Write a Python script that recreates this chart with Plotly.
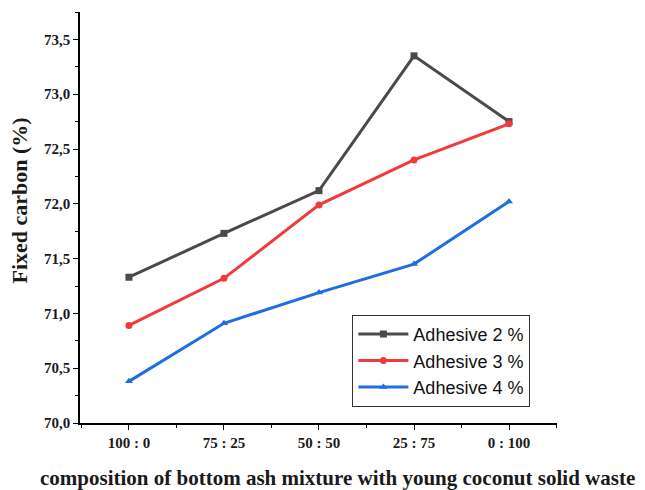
import plotly.graph_objects as go

# Mixture ratio categories (bottom ash : young coconut solid waste)
categories = ["100 : 0", "75 : 25", "50 : 50", "25 : 75", "0 : 100"]

# Fixed carbon content (%) for each adhesive level
adhesive_2 = [71.33, 71.73, 72.12, 73.35, 72.75]
adhesive_3 = [70.89, 71.32, 71.99, 72.40, 72.73]
adhesive_4 = [70.38, 70.91, 71.19, 71.45, 72.02]

series_names = ["Adhesive 2 %", "Adhesive 3 %", "Adhesive 4 %"]
series_colors = ["#4a4a4a", "#f03a3c", "#1e6ee2"]
series_symbols = ["square", "circle", "triangle-up"]

y_tick_values = [70.0, 70.5, 71.0, 71.5, 72.0, 72.5, 73.0, 73.5]
y_tick_labels = ["70,0", "70,5", "71,0", "71,5", "72,0", "72,5", "73,0", "73,5"]

x_pos = list(range(len(categories)))

fig = go.Figure()
for name, vals, color, sym in zip(series_names, [adhesive_2, adhesive_3, adhesive_4],
                                  series_colors, series_symbols):
    fig.add_trace(go.Scatter(
        x=x_pos, y=vals, name=name, mode="lines+markers",
        line=dict(color=color, width=3),
        marker=dict(symbol=sym, size=7, color=color),
    ))

serif_bold = dict(family="Liberation Serif", color="#1a1a1a", weight="bold")

fig.update_layout(
    width=645, height=490,
    margin=dict(l=80, r=88, t=12, b=67),
    paper_bgcolor="white", plot_bgcolor="white",
    showlegend=True,
    legend=dict(
        x=0.571, y=0.263, xanchor="left", yanchor="top",
        bgcolor="white", bordercolor="#333333", borderwidth=1,
        font=dict(family="Liberation Sans", size=18, color="#111111"),
        itemwidth=50, tracegroupgap=0,
    ),
    xaxis=dict(
        range=[-0.515, 4.505],
        tickvals=x_pos, ticktext=categories,
        tickfont=dict(size=15, **serif_bold),
        showline=True, linecolor="black", linewidth=1.5,
        ticks="outside", ticklen=5, tickwidth=1.2, tickcolor="black",
        minor=dict(ticks="outside", tick0=0.5, dtick=1, ticklen=3, tickcolor="black"),
        showgrid=False, zeroline=False, mirror=False,
    ),
    yaxis=dict(
        range=[70.0, 73.75],
        tickvals=y_tick_values, ticktext=y_tick_labels,
        tickfont=dict(size=15, **serif_bold),
        showline=True, linecolor="black", linewidth=1.5,
        ticks="outside", ticklen=5, tickwidth=1.2, tickcolor="black",
        minor=dict(ticks="outside", dtick=0.25, ticklen=3, tickcolor="black"),
        showgrid=False, zeroline=False,
    ),
    annotations=[
        dict(
            text="composition of bottom ash mixture with young coconut solid waste",
            xref="paper", yref="paper", x=0.539, y=-0.134, xanchor="center", yanchor="middle",
            showarrow=False, font=dict(size=21, **serif_bold),
        ),
        dict(
            text="Fixed carbon (%)", textangle=-90,
            xref="paper", yref="paper", x=-0.126, y=0.541, xanchor="center", yanchor="middle",
            showarrow=False, font=dict(size=22, **serif_bold),
        ),
    ],
)

fig.write_html("out.html")
